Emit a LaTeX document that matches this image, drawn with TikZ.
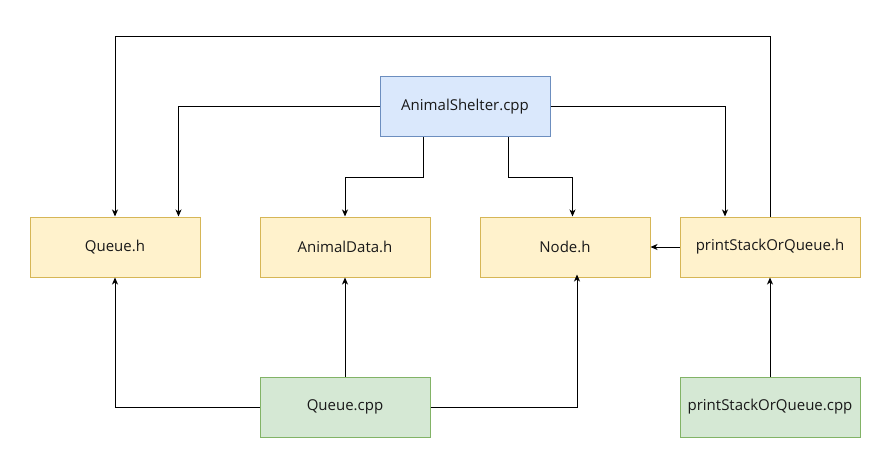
\documentclass[tikz,border=0pt]{standalone}
\usepackage{fontspec}
\setmainfont{Open Sans}
\usetikzlibrary{arrows.meta,calc}
\begin{document}
\begin{tikzpicture}[x=1pt,y=-1pt,
  box/.style={draw,line width=1pt,minimum width=170pt,minimum height=60pt,inner sep=0pt,font=\fontsize{15}{18}\selectfont,text=black!90},
  hdr/.style={box,fill=yellowF,draw=yellowD},
  src/.style={box,fill=greenF,draw=greenD},
  main/.style={box,fill=blueF,draw=blueD},
  conn/.style={line width=1pt,-{Stealth[length=7pt,width=6pt,inset=2pt]}}]
\definecolor{yellowF}{HTML}{FFF2CC}\definecolor{yellowD}{HTML}{D6B656}
\definecolor{greenF}{HTML}{D5E8D4}\definecolor{greenD}{HTML}{82B366}
\definecolor{blueF}{HTML}{DAE8FC}\definecolor{blueD}{HTML}{6C8EBF}
\useasboundingbox (0,0) rectangle (891,468);
\node[main] (as) at (465,107) {AnimalShelter.cpp};
\node[hdr] (qh) at (115,247) {Queue.h};
\node[hdr] (ad) at (345,247) {AnimalData.h};
\node[hdr] (nh) at (565,247) {Node.h};
\node[hdr,minimum width=180pt] (ph) at (770,247) {printStackOrQueue.h};
\node[src] (qc) at (345,407) {Queue.cpp};
\node[src,minimum width=180pt] (pc) at (770,407) {printStackOrQueue.cpp};
\coordinate (top) at (0,37);
\draw[conn] (as.west) -| ([xshift=63.5pt]qh.north);
\draw[conn] (ph.north) |- (top -| qh.north) -- (qh.north);
\draw[conn] (as.east) -| ([xshift=-45pt]ph.north);
\draw[conn] ([xshift=-41.7pt]as.south) -- ++(0,40) -| (ad.north);
\draw[conn] ([xshift=43pt]as.south) -- ++(0,40) -| ([xshift=7.5pt]nh.north);
\draw[conn] (ph.west) -- (nh.east);
\draw[conn] (qc.north) -- (ad.south);
\draw[conn] (qc.west) -| (qh.south);
\draw[conn] (qc.east) -| ([xshift=12pt,yshift=3pt]nh.south);
\draw[conn] (pc.north) -- (ph.south);
\end{tikzpicture}
\end{document}
